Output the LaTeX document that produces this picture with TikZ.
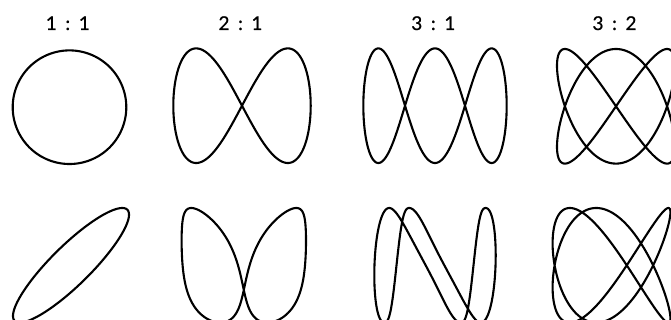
\documentclass[tikz,border=0pt]{standalone}
\usepackage{fontspec}
\setmainfont{Lato}
\newfontfamily\labelfont{Lato}[FakeBold=0.7]
\newcommand\ratiotext[2]{\makebox[0pt]{#1}\hspace{16.5pt}\makebox[0pt]{:}\hspace{16.5pt}\makebox[0pt]{#2}}
\pgfmathdeclarefunction{hwarp}{1}{%
  \begingroup
    \pgfmathparse{mod(2*#1,360)}\let\vv\pgfmathresult
    \pgfmathparse{\vv<68 ? 0 : (\vv<246 ? -14.75*(1-cos((\vv-68)/178*180)) : (\vv<304 ? -14.75*(1+cos((\vv-246)/58*180)) : 0))}%
    \pgfmathsmuggle\pgfmathresult
  \endgroup
}
\begin{document}
\begin{tikzpicture}[x=1pt,y=-1pt,
  curve/.style={line width=2.1pt, line join=round, black},
  ratiolabel/.style={font=\labelfont\fontsize{19}{22}\selectfont, anchor=base, inner sep=0pt}]
\useasboundingbox (0,0) rectangle (671,320);
% labels
\node[ratiolabel] (l11) at (67.8,30) {\ratiotext{1}{1}};
\node[ratiolabel] (l21) at (240.5,30) {\ratiotext{2}{1}};
\node[ratiolabel] (l31) at (433.3,30) {\ratiotext{3}{1}};
\node[ratiolabel] (l32) at (614.5,30) {\ratiotext{3}{2}};
% top row
\draw[curve] plot[variable=\t, domain=0:360, samples=361] ({69.5+56.8*cos(\t)}, {107.2-56.8*sin(\t)}) -- cycle;
\draw[curve] plot[variable=\t, domain=0:360, samples=361] ({242+66.75*sin(\t)-1.95*sin(3*\t)}, {105.7-57.3*sin(2*\t)}) -- cycle;
\draw[curve] plot[variable=\t, domain=0:360, samples=541] ({435+66.6*cos(\t)+3.9*cos(3*\t)+1.17*cos(5*\t)}, {105.7-57.3*sin(3*\t)}) -- cycle;
\draw[curve] plot[variable=\t, domain=0:360, samples=541] ({616+59*sin(2*\t)}, {106.3-57.3*sin(3*\t)}) -- cycle;
% bottom row
\draw[curve] plot[variable=\t, domain=0:360, samples=361] ({71+58*sin(\t+28)}, {265.3-57.3*sin(\t)}) -- cycle;
\draw[curve] plot[variable=\t, domain=0:360, samples=541] ({243.8+62.2*sin(\t-5.65*sin(2*\t)-6.37*sin(4*\t))}, {265.3-57.3*sin(2*\t-25.5)}) -- cycle;
\draw[curve] plot[variable=\t, domain=0:360, samples=721] ({435+60.7*cos(\t+8.4*sin(2*\t))}, {265.3-57.3*sin(3*(\t+hwarp(\t))+170)}) -- cycle;
\draw[curve] plot[variable=\t, domain=0:360, samples=541] ({611.5+58.9*sin(2*\t+15)}, {265.3-57.3*sin(3*\t)}) -- cycle;
\end{tikzpicture}
\end{document}
